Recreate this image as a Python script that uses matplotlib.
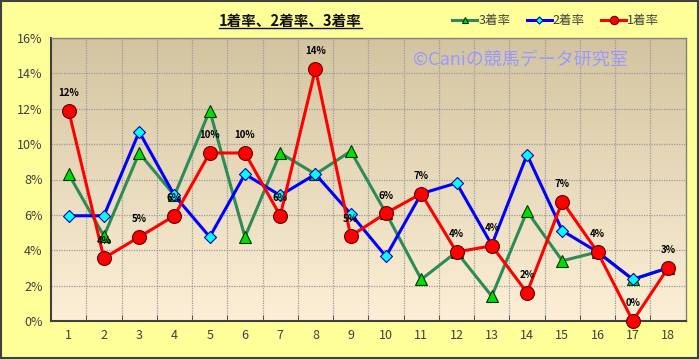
import matplotlib
matplotlib.use("Agg")
import matplotlib.pyplot as plt
import numpy as np
from matplotlib.patches import Rectangle
from matplotlib.lines import Line2D

plt.rcParams['font.family'] = ['Noto Sans CJK JP', 'DejaVu Sans']

categories = [str(i) for i in range(1, 19)]
win_rate = [11.9, 3.55, 4.75, 5.95, 9.5, 9.5, 5.95, 14.25, 4.8, 6.1, 7.2, 3.9, 4.25, 1.6, 6.75, 3.9, 0.0, 3.0]
second_rate = [5.95, 5.95, 10.7, 7.1, 4.75, 8.3, 7.1, 8.3, 6.05, 3.65, 7.2, 7.8, 4.3, 9.4, 5.1, 3.9, 2.35, 3.0]
third_rate = [8.3, 4.8, 9.5, 7.1, 11.9, 4.75, 9.5, 8.3, 9.6, 6.1, 2.35, 3.9, 1.4, 6.2, 3.4, 3.9, 2.35, 3.0]
win_labels = ["12%", "4%", "5%", "6%", "10%", "10%", "6%", "14%", "5%", "6%", "7%", "4%", "4%", "2%", "7%", "4%", "0%", "3%"]
yticks = [0, 2, 4, 6, 8, 10, 12, 14, 16]

fig = plt.figure(figsize=(6.99, 3.59), dpi=100)
fig.patch.set_facecolor('#FFFF99')
fig.patches.append(Rectangle((0.001, 0.002), 0.997, 0.995, transform=fig.transFigure,
                             fill=False, edgecolor='#404040', linewidth=1.5, zorder=10))

ax = fig.add_axes([0.073, 0.106, 0.908, 0.788])
x = np.arange(1, 19)
ax.set_xlim(0.5, 18.5)
ax.set_ylim(0, 16)

# gradient background
top = np.array([0.83, 0.77, 0.63])
bot = np.array([0.99, 0.94, 0.84])
t = np.linspace(0, 1, 256)[:, None]
grad = (top * (1 - t) + bot * t)[:, None, :]
ax.imshow(grad, extent=[0, 1, 0, 1], transform=ax.transAxes, aspect='auto', zorder=0)
ax.set_facecolor('none')

ax.set_xticks(x)
ax.set_xticklabels(categories)
ax.set_yticks(yticks)
ax.set_yticklabels([f"{v}%" for v in yticks])
ax.set_xticks(np.arange(0.5, 19, 1), minor=True)
ax.grid(False)
for gx in np.arange(1.5, 18.5, 1):
    ax.axvline(gx, color='#9A9A9A', linestyle=(0, (1, 1)), linewidth=0.9, zorder=1)
for gy in yticks[1:]:
    ax.axhline(gy, color='#9A9A9A', linestyle=(0, (1, 1)), linewidth=0.9, zorder=1)

ax.tick_params(axis='both', which='major', length=0, labelsize=9, labelcolor='#404040', pad=6)
ax.tick_params(axis='x', which='minor', length=4, color='#404040', direction='in')
ax.tick_params(axis='y', pad=6)
for s in ['left', 'bottom']:
    ax.spines[s].set_color('#404040')
    ax.spines[s].set_linewidth(1.5)
for s in ['top', 'right']:
    ax.spines[s].set_color('#808080')
    ax.spines[s].set_linewidth(1.0)

l3, = ax.plot(x, third_rate, color='#2E8B57', linewidth=2.2, marker='^', markersize=8,
              markerfacecolor='#00DD00', markeredgecolor='#003300', markeredgewidth=0.8,
              zorder=3, clip_on=False, label='3着率')
l2, = ax.plot(x, second_rate, color='#0000FF', linewidth=2.2, marker='D', markersize=6,
              markerfacecolor='#00FFFF', markeredgecolor='#0000AA', markeredgewidth=0.8,
              zorder=4, clip_on=False, label='2着率')
l1, = ax.plot(x, win_rate, color='#FF0000', linewidth=2.2, marker='o', markersize=10,
              markerfacecolor='#FF0000', markeredgecolor='#660000', markeredgewidth=0.8,
              zorder=5, clip_on=False, label='1着率')

for xi, yi, lab in zip(x, win_rate, win_labels):
    ax.annotate(lab, (xi, yi), xytext=(0, 9), textcoords='offset points', ha='center',
                va='bottom', fontsize=7, fontweight='bold', color='black', zorder=6)

ax.text(0.74, 0.922, '©Caniの競馬データ研究室', transform=ax.transAxes, ha='center', va='center',
        fontsize=13, color='#9999FF', zorder=2)

leg = fig.legend(handles=[l3, l2, l1], loc='center', bbox_to_anchor=(0.795, 0.943), ncol=3,
                 frameon=False, fontsize=9, handlelength=2.0, columnspacing=1.3, handletextpad=0.1,
                 markerscale=0.6, labelcolor='#404040')

title = fig.text(0.415, 0.942, '1着率、2着率、3着率', ha='center', va='center',
                 fontsize=10.5, fontweight='bold', color='#111111')
fig.canvas.draw()
bb = title.get_window_extent().transformed(fig.transFigure.inverted())
fig.add_artist(Line2D([bb.x0, bb.x1], [bb.y0 + 0.002, bb.y0 + 0.002], transform=fig.transFigure,
                      color='#111111', linewidth=1.0))

fig.savefig('out.png', dpi=100, facecolor=fig.get_facecolor())
